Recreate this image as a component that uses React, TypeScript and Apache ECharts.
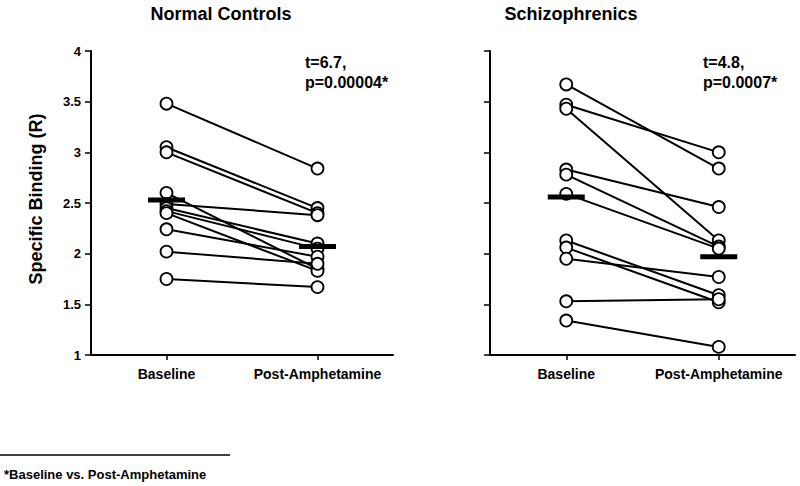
import React, { useEffect, useRef } from "react";
import * as echarts from "echarts";

const categories = ["Baseline", "Post-Amphetamine"];
const yMin = 1;
const yMax = 4;
const yStep = 0.5;
const controlsBaseline = [3.48, 3.05, 3.0, 2.6, 2.49, 2.45, 2.42, 2.4, 2.24, 2.02, 1.75];
const controlsPost = [2.84, 2.45, 2.4, 1.85, 2.38, 2.1, 2.05, 1.83, 1.97, 1.9, 1.67];
const controlsMean = [2.53, 2.07];
const schizoBaseline = [3.67, 3.47, 3.43, 2.83, 2.78, 2.59, 2.13, 2.06, 1.95, 1.53, 1.34];
const schizoPost = [2.84, 3.0, 2.13, 2.46, 2.07, 2.05, 1.59, 1.52, 1.77, 1.55, 1.08];
const schizoMean = [2.56, 1.97];
const panelTitles = ["Normal Controls", "Schizophrenics"];
const statLines = [
  ["t=6.7,", "p=0.00004*"],
  ["t=4.8,", "p=0.0007*"],
];
const yAxisTitle = "Specific Binding (R)";
const footnote = "*Baseline vs. Post-Amphetamine";

const FONT = "'Liberation Sans', Arial, Helvetica, sans-serif";

export default function App() {
  const ref = useRef<HTMLDivElement>(null);
  useEffect(() => {
    if (!ref.current) return;
    const chart = echarts.init(ref.current, undefined, { renderer: "svg" });

    const panels = [
      { base: controlsBaseline, post: controlsPost, mean: controlsMean },
      { base: schizoBaseline, post: schizoPost, mean: schizoMean },
    ];

    const series: any[] = [];
    panels.forEach((p, pi) => {
      p.base.forEach((b, i) => {
        series.push({
          type: "line",
          xAxisIndex: pi,
          yAxisIndex: pi,
          data: [b, p.post[i]],
          symbol: "circle",
          symbolSize: 12,
          showSymbol: true,
          lineStyle: { color: "#000", width: 2 },
          itemStyle: { color: "#fff", borderColor: "#000", borderWidth: 1.8, opacity: 1 },
          z: 2,
        });
      });
      series.push({
        type: "scatter",
        xAxisIndex: pi,
        yAxisIndex: pi,
        data: p.mean,
        symbol: "rect",
        symbolSize: [37, 5],
        itemStyle: { color: "#000", opacity: 1 },
        z: 5,
      });
    });

    const axisLineStyle = { color: "#000", width: 2, opacity: 1, type: "solid" };
    const tickLineStyle = { color: "#000", width: 1.5, opacity: 1, type: "solid" };

    const mkX = (gi: number) => ({
      type: "category",
      gridIndex: gi,
      data: categories,
      boundaryGap: true,
      axisLine: { show: true, lineStyle: axisLineStyle },
      axisTick: { show: true, alignWithLabel: true, length: 5, lineStyle: tickLineStyle },
      axisLabel: { interval: 0, color: "#000", fontFamily: FONT, fontWeight: "bold", fontSize: 14, margin: 12 },
      splitLine: { show: false },
    });
    const mkY = (gi: number, showLabel: boolean) => ({
      type: "value",
      gridIndex: gi,
      min: yMin,
      max: yMax,
      interval: yStep,
      axisLine: { show: true, lineStyle: axisLineStyle },
      axisTick: { show: true, length: 6, lineStyle: tickLineStyle },
      axisLabel: {
        show: showLabel,
        color: "#000",
        fontFamily: FONT,
        fontWeight: "bold",
        fontSize: 13,
        margin: 10,
      },
      splitLine: { show: false },
    });

    const txt = (x: number, y: number, text: string, size: number, align = "left", extra: any = {}) => ({
      type: "text",
      x,
      y,
      ...extra,
      style: { text, fontFamily: FONT, fontWeight: "bold", fontSize: size, fill: "#000", align, verticalAlign: "middle" },
    });

    const graphics: any[] = [
      txt(221, 14, panelTitles[0], 18, "center"),
      txt(571, 14, panelTitles[1], 18, "center"),
      txt(305, 62, statLines[0][0], 16),
      txt(305, 82, statLines[0][1], 16),
      txt(703, 62, statLines[1][0], 16),
      txt(703, 82, statLines[1][1], 16),
      txt(36, 199, yAxisTitle, 18, "center", { rotation: Math.PI / 2 }),
      {
        type: "line",
        shape: { x1: 0, y1: 455, x2: 230, y2: 455 },
        style: { stroke: "#000", lineWidth: 1.5 },
      },
      txt(4, 474, footnote, 13),
    ];

    chart.setOption({
      animation: false,
      backgroundColor: "#fff",
      grid: [
        { left: 91, top: 51, width: 302, height: 304 },
        { left: 490, top: 51, width: 305, height: 304 },
      ],
      xAxis: [mkX(0), mkX(1)],
      yAxis: [mkY(0, true), mkY(1, false)],
      series,
      graphic: graphics,
    });

    return () => chart.dispose();
  }, []);

  return (
    <div
      ref={ref}
      style={{ position: "fixed", left: 0, top: 0, width: 800, height: 486, background: "#fff" }}
    />
  );
}
